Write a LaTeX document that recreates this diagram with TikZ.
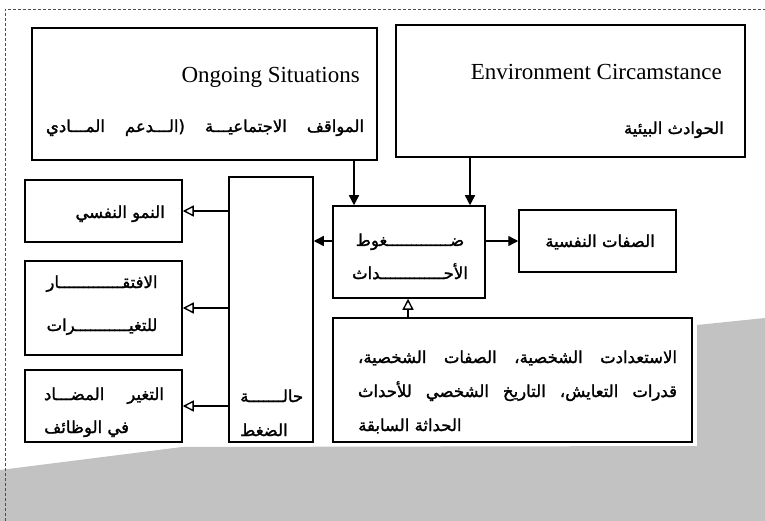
\documentclass[tikz,border=0pt]{standalone}
\usepackage{fontspec}
\setmainfont{Liberation Serif}
\newfontfamily\arabicfont[Script=Arabic,FakeBold=1.5]{DejaVu Sans}
\TeXXeTstate=1
\usetikzlibrary{arrows.meta,calc}
\newcommand{\artxt}[1]{{\arabicfont\beginR #1\endR}}

\begin{document}
\begin{tikzpicture}[x=1pt,y=-1pt,
  blok/.style={draw, line width=1.5pt, inner sep=0pt, fill=white},
  artx/.style={inner sep=0pt, font=\fontsize{16.5}{18}\selectfont},
  entx/.style={inner sep=0pt, font=\fontsize{23}{26}\selectfont},
  solidarr/.style={line width=1.4pt, -{Triangle[length=10pt,width=10pt]}},
  openarr/.style={line width=1.4pt, -{Triangle[length=11pt,width=11pt,fill=white]}}]

  \useasboundingbox (0,0) rectangle (765,521);
  \fill[white] (0,0) rectangle (765,521);

  % scanner noise and page edge
  \fill[black!24] (0,470) -- (182,447) -- (697,446) -- (697,325)
    -- (765,318) -- (765,521) -- (0,521) -- cycle;
  \draw[black!70, line width=0.5pt, densely dashed] (5,521) -- (5,9) -- (765,9);

  % top boxes
  \node[blok, minimum width=345, minimum height=132] (ongoing) at (204.5,94) {};
  \node[entx, anchor=base east] (ongen) at (360,83) {Ongoing Situations};
  \node[artx, anchor=base] (ongar) at (205,132)
    {\makebox[318pt][s]{\artxt{المواقف الاجتماعيـــة (الـــدعم المـــادي}}};

  \node[blok, minimum width=349, minimum height=132] (envi) at (570.5,91) {};
  \node[entx, anchor=base east] (enven) at (722,80) {Environment Circamstance};
  \node[artx, anchor=base east] (envar) at (724,134) {\artxt{الحوادث البيئية}};

  % middle
  \node[blok, minimum width=152, minimum height=92] (dagut) at (409,252) {};
  \node[artx, anchor=base] (dagut1) at (410,246) {\artxt{ضـــــــــــــغوط}};
  \node[artx, anchor=base] (dagut2) at (410,279) {\artxt{الأحـــــــــــــداث}};

  \node[blok, minimum width=157, minimum height=62] (sifat) at (597.5,241) {};
  \node[artx, anchor=base east] (sifat1) at (655,247) {\artxt{الصفات النفسية}};

  \node[blok, minimum width=359, minimum height=124] (istid) at (512.5,380) {};
  \node[artx, anchor=base] (istid1) at (517.5,363)
    {\makebox[319pt][s]{\artxt{الاستعدادت الشخصية، الصفات الشخصية،}}};
  \node[artx, anchor=base] (istid2) at (517.5,397)
    {\makebox[319pt][s]{\artxt{قدرات التعايش، التاريخ الشخصي للأحداث}}};
  \node[artx, anchor=base west] (istid3) at (358,431) {\artxt{الحداثة السابقة}};

  % stress state and outcomes
  \node[blok, minimum width=84, minimum height=265] (halat) at (271,309.5) {};
  \node[artx, anchor=base west] (halat1) at (240,402) {\artxt{حالـــــــة}};
  \node[artx, anchor=base west] (halat2) at (240,436) {\artxt{الضغط}};

  \node[blok, minimum width=157, minimum height=62] (nomu) at (103.5,211) {};
  \node[artx, anchor=base east] (nomu1) at (165,218) {\artxt{النمو النفسي}};

  \node[blok, minimum width=157, minimum height=94] (iftiqar) at (103.5,308) {};
  \node[artx, anchor=base] (iftiqar1) at (102,288) {\artxt{الافتقـــــــــــــار}};
  \node[artx, anchor=base] (iftiqar2) at (102,331) {\artxt{للتغيـــــــــــرات}};

  \node[blok, minimum width=157, minimum height=72] (taghayur) at (103.5,406) {};
  \node[artx, anchor=base] (taghayur1) at (104,400)
    {\makebox[120pt][s]{\artxt{التغير المضـــاد}}};
  \node[artx, anchor=base west] (taghayur2) at (44,433) {\artxt{في الوظائف}};

  % arrows
  \coordinate (c1) at (354,0);
  \coordinate (c2) at (470,0);
  \coordinate (c3) at (408,0);
  \draw[solidarr] (c1 |- ongoing.south) -- (c1 |- dagut.north);
  \draw[solidarr] (c2 |- envi.south) -- (c2 |- dagut.north);
  \draw[solidarr] (sifat.west -| dagut.east) -- (sifat.west);
  \draw[solidarr] (sifat.west -| dagut.west) -- (sifat.west -| halat.east);
  \draw[openarr] (c3 |- istid.north) -- (c3 |- dagut.south);
  \draw[openarr] (halat.west |- nomu.east) -- (nomu.east);
  \draw[openarr] (halat.west |- iftiqar.east) -- (iftiqar.east);
  \draw[openarr] (halat.west |- taghayur.east) -- (taghayur.east);

\end{tikzpicture}
\end{document}
